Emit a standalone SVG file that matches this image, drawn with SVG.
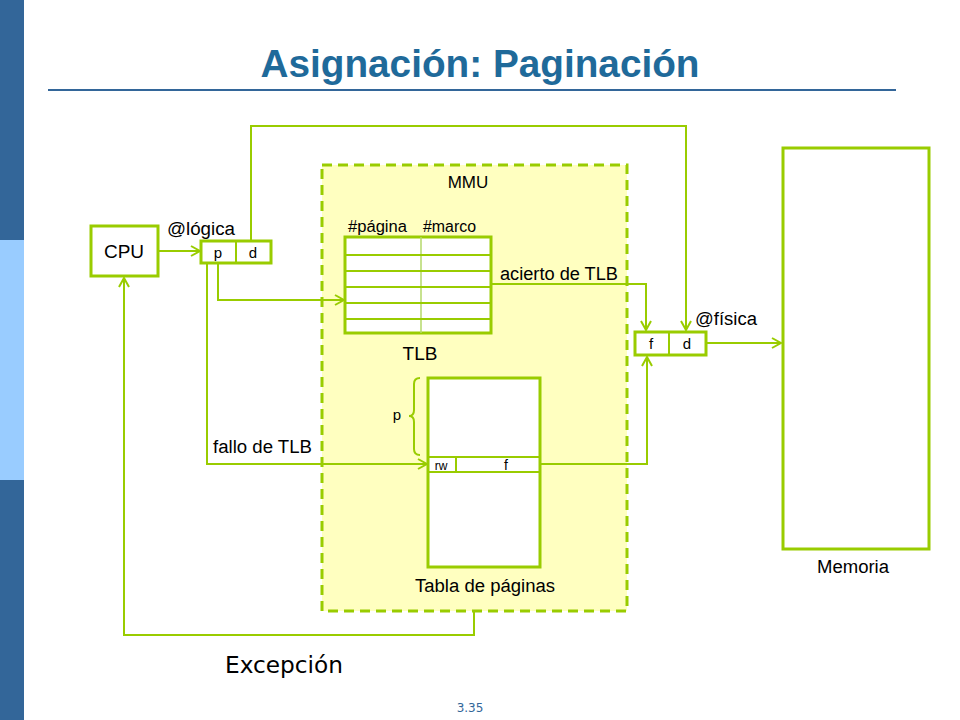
<svg xmlns="http://www.w3.org/2000/svg" width="960" height="720" viewBox="0 0 960 720">
<defs>
<marker id="arr" markerWidth="12" markerHeight="12" refX="10" refY="6" orient="auto" markerUnits="userSpaceOnUse">
<polyline points="1,1 10,6 1,11" fill="none" stroke="#99CC00" stroke-width="2"/>
</marker>
</defs>
<style>
.box{fill:#fff;stroke:#99CC00;stroke-width:3}
.thin{stroke:#99CC00;stroke-width:2;fill:none}
.con{stroke:#99CC00;stroke-width:2;fill:none}
.t{font-family:"Liberation Sans",Arial,sans-serif;fill:#000}
</style>
<rect x="0" y="0" width="24" height="240" fill="#336699"/>
<rect x="0" y="240" width="24" height="240" fill="#99CCFF"/>
<rect x="0" y="480" width="24" height="240" fill="#336699"/>
<text x="480" y="77" text-anchor="middle" font-family="Liberation Sans,Arial,sans-serif" font-weight="bold" font-size="38" fill="#1F6A9A" textLength="439" lengthAdjust="spacingAndGlyphs">Asignación: Paginación</text>
<line x1="48" y1="90" x2="896" y2="90" stroke="#336699" stroke-width="2"/>

<g id="mmu">
<rect x="322" y="165" width="305" height="446" fill="#FFFFC0" stroke="#99CC00" stroke-width="3" stroke-dasharray="10,6"/>
<text class="t" x="468" y="188" font-size="17" text-anchor="middle">MMU</text>
</g>

<g id="cpu">
<rect class="box" x="91" y="226" width="67" height="50"/>
<text class="t" x="124" y="258" font-size="19" text-anchor="middle">CPU</text>
</g>

<g id="logica">
<rect class="box" x="201" y="241" width="70" height="22"/>
<line class="thin" x1="236" y1="241" x2="236" y2="263"/>
<text class="t" x="218" y="258" font-size="15" text-anchor="middle">p</text>
<text class="t" x="253" y="258" font-size="15" text-anchor="middle">d</text>
<text class="t" x="167" y="235" font-size="18" textLength="68" lengthAdjust="spacingAndGlyphs">@lógica</text>
</g>

<g id="tlb">
<rect class="box" x="345" y="237" width="146" height="96"/>
<line x1="421" y1="237" x2="421" y2="333" stroke="#B5D96A" stroke-width="1.5"/>
<line class="thin" x1="345" y1="255" x2="491" y2="255"/>
<line class="thin" x1="345" y1="271" x2="491" y2="271"/>
<line class="thin" x1="345" y1="287" x2="491" y2="287"/>
<line class="thin" x1="345" y1="303" x2="491" y2="303"/>
<line class="thin" x1="345" y1="319" x2="491" y2="319"/>
<text class="t" x="348" y="232" font-size="16" textLength="59" lengthAdjust="spacingAndGlyphs">#página</text>
<text class="t" x="423" y="232" font-size="16" textLength="53" lengthAdjust="spacingAndGlyphs">#marco</text>
<text class="t" x="420" y="360" font-size="19" text-anchor="middle">TLB</text>
</g>

<g id="tabla">
<rect class="box" x="428" y="378" width="112" height="189"/>
<line class="thin" x1="428" y1="457" x2="540" y2="457"/>
<line class="thin" x1="428" y1="472" x2="540" y2="472"/>
<line class="thin" x1="456" y1="457" x2="456" y2="472"/>
<text class="t" x="441" y="470" font-size="12" text-anchor="middle">rw</text>
<text class="t" x="506" y="470" font-size="14" text-anchor="middle">f</text>
<path class="thin" d="M420,378 Q414,378 414,384 L414,410 Q414,416 409,416 Q414,416 414,422 L414,449 Q414,455 420,455"/>
<text class="t" x="397" y="420" font-size="15" text-anchor="middle">p</text>
<text class="t" x="485" y="592" font-size="18" text-anchor="middle" textLength="140" lengthAdjust="spacingAndGlyphs">Tabla de páginas</text>
</g>

<g id="fisica">
<rect class="box" x="635" y="332" width="71" height="23"/>
<line class="thin" x1="669" y1="332" x2="669" y2="355"/>
<text class="t" x="651" y="349" font-size="15" text-anchor="middle">f</text>
<text class="t" x="687" y="349" font-size="15" text-anchor="middle">d</text>
<text class="t" x="695" y="325" font-size="18" textLength="62" lengthAdjust="spacingAndGlyphs">@física</text>
</g>

<g id="memoria">
<rect class="box" x="783" y="148" width="146" height="401"/>
<text class="t" x="853" y="573" font-size="18" text-anchor="middle" textLength="72" lengthAdjust="spacingAndGlyphs">Memoria</text>
</g>

<g id="connectors">
<line class="con" x1="158" y1="251" x2="200" y2="251" marker-end="url(#arr)"/>
<polyline class="con" points="251,241 251,126 686,126 686,330" marker-end="url(#arr)"/>
<polyline class="con" points="218,263 218,300 344,300" marker-end="url(#arr)"/>
<polyline class="con" points="207,263 207,464 427,464" marker-end="url(#arr)"/>
<polyline class="con" points="491,284 646,284 646,330" marker-end="url(#arr)"/>
<polyline class="con" points="540,464 647,464 647,357" marker-end="url(#arr)"/>
<line class="con" x1="706" y1="343" x2="781" y2="343" marker-end="url(#arr)"/>
<polyline class="con" points="474,612 474,635 124,635 124,278" marker-end="url(#arr)"/>
<text class="t" x="500" y="280" font-size="18" textLength="118" lengthAdjust="spacingAndGlyphs">acierto de TLB</text>
<text class="t" x="213" y="453" font-size="18" textLength="99" lengthAdjust="spacingAndGlyphs">fallo de TLB</text>
</g>

<text x="225" y="673" font-family="DejaVu Sans,Verdana,sans-serif" font-size="23" fill="#000" textLength="118" lengthAdjust="spacingAndGlyphs">Excepción</text>
<text x="470" y="712" font-family="DejaVu Sans,Verdana,sans-serif" font-size="12" fill="#336699" text-anchor="middle">3.35</text>
</svg>
